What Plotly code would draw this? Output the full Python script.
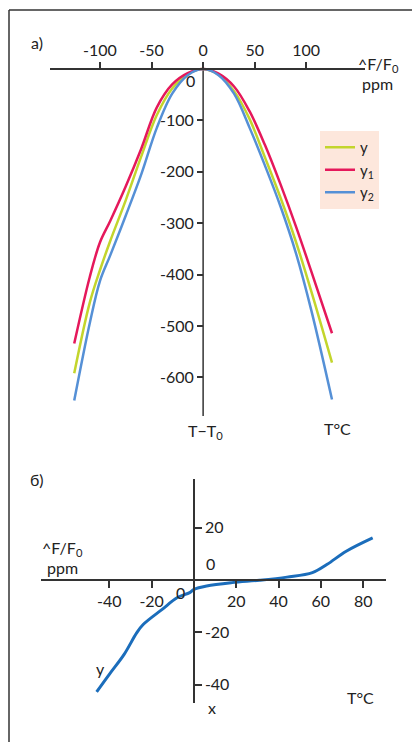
import plotly.graph_objects as go

# the page body has an 8px margin, so the figure is 8px in from the window edge
OFF = 8
W, H = 420 - OFF, 742 - OFF
FONT = "Lato"
TXT = "#222222"

# ---- panel a data ----
xa = [-125, -110, -100, -90, -75, -60, -45, -30, -15, 0, 15, 30, 45, 60, 75, 90, 105, 125]
y_g = [-592, -455, -391, -334, -255, -170, -90, -38, -10, 0, -11, -43, -97, -172, -250, -336, -433, -571]
y_r = [-534, -405, -337, -295, -228, -155, -75, -30, -8, 0, -9, -34, -82, -148, -224, -306, -394, -514]
y_b = [-645, -495, -412, -362, -285, -205, -115, -48, -12, 0, -12, -48, -114, -188, -267, -358, -470, -643]
names_a = ["y", "y<sub>1</sub>", "y<sub>2</sub>"]
xticks_a = [-100, -50, 0, 50, 100]
yticks_a = [-100, -200, -300, -400, -500, -600]

# ---- panel b data ----
xb = [-46, -40, -33, -27, -24, -15, -8, -2, 0, 6, 18, 31, 44, 56, 63, 72, 84.5]
yb = [-42.7, -36, -28.4, -20.1, -17, -11.2, -6.8, -4.8, -3.6, -2.3, -1, -0.1, 1.1, 2.8, 6, 11, 16.1]
xticks_b = [-40, -20, 20, 40, 60, 80]
yticks_b = [20, -20, -40]

def px(x):
    return (x - OFF) / W

def py(y):
    return 1 - (y - OFF) / H

fig = go.Figure()
colors = ["#c3d52c", "#e5185b", "#5590d6"]
for ys, nm, c in zip([y_g, y_r, y_b], names_a, colors):
    fig.add_trace(go.Scatter(x=xa, y=ys, mode="lines", name=nm,
                             line=dict(color=c, width=2.5, shape="spline"),
                             xaxis="x", yaxis="y"))
fig.add_trace(go.Scatter(x=xb, y=yb, mode="lines", showlegend=False,
                         line=dict(color="#1b6dbb", width=3, shape="spline"),
                         xaxis="x2", yaxis="y2"))

# panel a geometry
xa_rng = [-148.5, 157]
ya_rng = [-675, 19.5]
xa_dom = [px(50), px(365)]
ya_dom = [py(416), py(59)]
x0a = xa_dom[0] + (0 - xa_rng[0]) / (xa_rng[1] - xa_rng[0]) * (xa_dom[1] - xa_dom[0])
y0a = ya_dom[0] + (0 - ya_rng[0]) / (ya_rng[1] - ya_rng[0]) * (ya_dom[1] - ya_dom[0])

# panel b geometry
xb_rng = [-72.3, 90.8]
yb_rng = [-46.95, 38.55]
xb_dom = [px(41), px(386)]
yb_dom = [py(703), py(479)]
x0b = xb_dom[0] + (0 - xb_rng[0]) / (xb_rng[1] - xb_rng[0]) * (xb_dom[1] - xb_dom[0])
y0b = yb_dom[0] + (0 - yb_rng[0]) / (yb_rng[1] - yb_rng[0]) * (yb_dom[1] - yb_dom[0])

axfont = dict(family=FONT, size=16, color=TXT)
common = dict(showgrid=False, zeroline=False, linecolor="#333333", linewidth=1.5,
              tickcolor="#333333", tickwidth=1.5, tickfont=axfont, fixedrange=True)

def lab(vals):
    return [str(v) for v in vals]

fig.update_layout(
    width=W, height=H, margin=dict(l=0, r=0, t=0, b=0),
    paper_bgcolor="white", plot_bgcolor="rgba(0,0,0,0)",
    font=dict(family=FONT, size=16, color=TXT),
    xaxis=dict(domain=xa_dom, range=xa_rng, anchor="free", position=y0a, side="top",
               showline=True, ticks="outside", ticklen=6, tickvals=xticks_a,
               ticktext=lab(xticks_a), **common),
    yaxis=dict(domain=ya_dom, range=ya_rng, anchor="free", position=x0a, side="left",
               showline=False, ticks="outside", ticklen=6, tickvals=yticks_a,
               ticktext=lab(yticks_a), **common),
    xaxis2=dict(domain=xb_dom, range=xb_rng, anchor="free", position=y0b, side="bottom",
                showline=True, ticks="outside", ticklen=7, tickvals=xticks_b,
                ticktext=lab(xticks_b), **common),
    yaxis2=dict(domain=yb_dom, range=yb_rng, anchor="free", position=x0b, side="right",
                showline=True, ticks="outside", ticklen=7, tickvals=yticks_b,
                ticktext=lab(yticks_b), **common),
    legend=dict(x=px(320), y=py(131), xanchor="left", yanchor="top",
                bgcolor="#fde7dc", borderwidth=0, font=dict(family=FONT, size=15, color=TXT),
                tracegroupgap=0, itemwidth=30),
    showlegend=True,
)

# vertical axis line panel a
fig.add_shape(type="line", xref="x", yref="y", x0=0, x1=0, y0=0, y1=ya_rng[0],
              line=dict(color="#333333", width=1.5), layer="below")
# frame (top and left edges)
fig.add_shape(type="line", xref="paper", yref="paper", x0=px(9), x1=1.05, y0=py(10), y1=py(10),
              line=dict(color="#333333", width=1.5))
fig.add_shape(type="line", xref="paper", yref="paper", x0=px(9), x1=px(9), y0=py(10), y1=-0.05,
              line=dict(color="#333333", width=1.5))

def ann(text, x, y, xanchor="center"):
    fig.add_annotation(text=text, x=px(x), y=py(y), xref="paper", yref="paper",
                       xanchor=xanchor, yanchor="middle", showarrow=False,
                       font=dict(family=FONT, size=16, color=TXT))

ann("a)", 37, 43)
ann("^F/F<sub>0</sub>", 356, 64, "left")
ann("ppm", 360, 83, "left")
ann("0", 190, 80)
ann("T\u2212T<sub>0</sub>", 205, 431)
ann("T°C", 337, 428)
ann("б)", 37, 480)
ann("^F/F<sub>0</sub>", 40, 548, "left")
ann("ppm", 45, 567, "left")
ann("0", 210, 563)
ann("0", 180, 592)
ann("y", 100, 668)
ann("x", 212, 707)
ann("T°C", 360, 697)

fig.write_html("out.html")
